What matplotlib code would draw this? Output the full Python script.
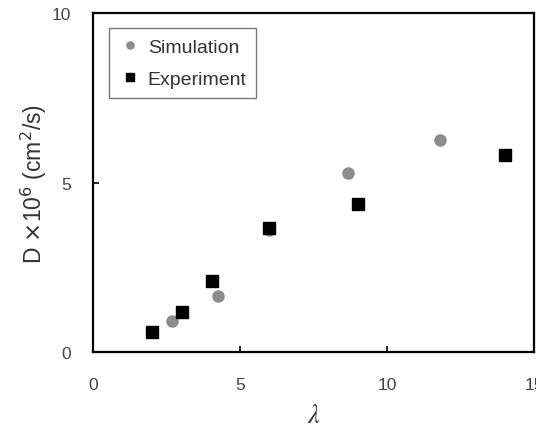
import matplotlib
matplotlib.use('Agg')
import matplotlib.pyplot as plt

sim_x = [2.7, 4.25, 6.0, 8.67, 11.8]
sim_y = [0.91, 1.66, 3.6, 5.29, 6.25]
exp_x = [2.0, 3.04, 4.03, 6.0, 9.0, 14.0]
exp_y = [0.58, 1.17, 2.09, 3.67, 4.38, 5.80]

plt.rcParams['font.family'] = ['Liberation Sans', 'DejaVu Sans']

fig = plt.figure(figsize=(5.36, 4.35), dpi=100)
ax = fig.add_axes([0.1735, 0.1885, 0.823, 0.779])

ax.plot(sim_x, sim_y, 'o', color='#8c8c8c', markersize=8, label='Simulation', zorder=3)
ax.plot(exp_x, exp_y, 's', color='black', markersize=8.5, label='Experiment', zorder=4)

ax.set_xlim(0, 15)
ax.set_ylim(0, 10)
ax.set_xticks([0, 5, 10, 15])
ax.set_yticks([0, 5, 10])
ax.tick_params(direction='in', length=4, width=1.2, labelsize=12.5, labelcolor='#444444')
ax.tick_params(axis='x', pad=18)
ax.tick_params(axis='y', pad=16)
for s in ax.spines.values():
    s.set_linewidth(1.6)

ax.set_ylabel(r'D $\times$10$^6$ (cm$^2$/s)', fontsize=16.5, color='#333333', labelpad=2)
ax.set_xlabel(r'$\lambda$', fontsize=19, color='#333333', labelpad=8, math_fontfamily='stix')

leg = ax.legend(loc='upper left', bbox_to_anchor=(0.036, 0.955), borderaxespad=0,
                fontsize=14, fancybox=False, edgecolor='#777777', framealpha=1,
                handletextpad=0.3, labelspacing=0.75, markerscale=0.65,
                handlelength=1.2, borderpad=0.5)
leg.get_frame().set_linewidth(1.0)
for t in leg.get_texts():
    t.set_color('#333333')

fig.savefig('out.png', dpi=100)
